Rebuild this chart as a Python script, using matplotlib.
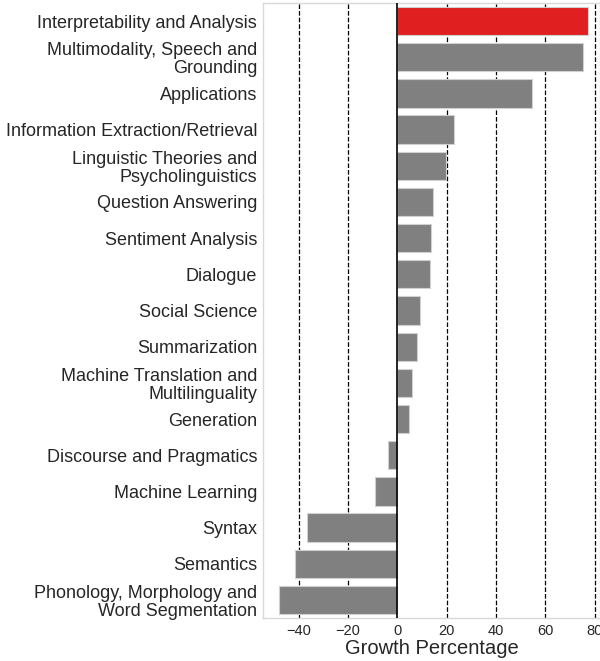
import matplotlib
matplotlib.use("Agg")
import matplotlib.pyplot as plt

# categories from top to bottom
categories = [
    "Interpretability and Analysis",
    "Multimodality, Speech and\nGrounding",
    "Applications",
    "Information Extraction/Retrieval",
    "Linguistic Theories and\nPsycholinguistics",
    "Question Answering",
    "Sentiment Analysis",
    "Dialogue",
    "Social Science",
    "Summarization",
    "Machine Translation and\nMultilinguality",
    "Generation",
    "Discourse and Pragmatics",
    "Machine Learning",
    "Syntax",
    "Semantics",
    "Phonology, Morphology and\nWord Segmentation",
]
growth = [77.3, 75.4, 54.5, 23.0, 19.7, 14.7, 13.8, 13.4, 9.1, 8.0,
          6.0, 4.6, -3.8, -9.2, -36.7, -41.5, -48.0]
highlight = "Interpretability and Analysis"
xticks = [-40, -20, 0, 20, 40, 60, 80]

plt.rcParams['font.family'] = ['Liberation Sans', 'DejaVu Sans']

fig = plt.figure(figsize=(6.0, 6.61), dpi=100)
ax = fig.add_axes([0.4388, 0.065, 0.5612, 0.9305])

colors = ['#e02020' if c == highlight else '#808080' for c in categories]
ypos = list(range(len(categories)))
ax.barh(ypos, growth, height=0.78, color=colors, edgecolor='#d0d0d0',
        linewidth=0.8, zorder=2)

ax.set_ylim(len(categories) - 0.5, -0.5)
ax.set_xlim(-54.3, 82.2)
ax.set_yticks(ypos)
ax.set_yticklabels(categories, fontsize=13.0, color='#262626',
                   multialignment='right', linespacing=1.08)
ax.set_xticks(xticks)
ax.set_xticklabels([str(t) if t >= 0 else '\u2212' + str(-t) for t in xticks],
                   fontsize=10.5, color='#262626')
ax.tick_params(axis='both', length=0, pad=4)
ax.tick_params(axis='y', pad=4.5)

for t in xticks:
    if t != 0:
        ax.axvline(t, color='black', linestyle='--', linewidth=0.9, zorder=1)
ax.axvline(0, color='black', linewidth=1.2, zorder=3)

for s in ax.spines.values():
    s.set_color('#d9d9d9')
    s.set_linewidth(1.0)

ax.set_xlabel("Growth Percentage", fontsize=14.5, color='#262626', labelpad=1)

fig.savefig("out.png", dpi=100)
